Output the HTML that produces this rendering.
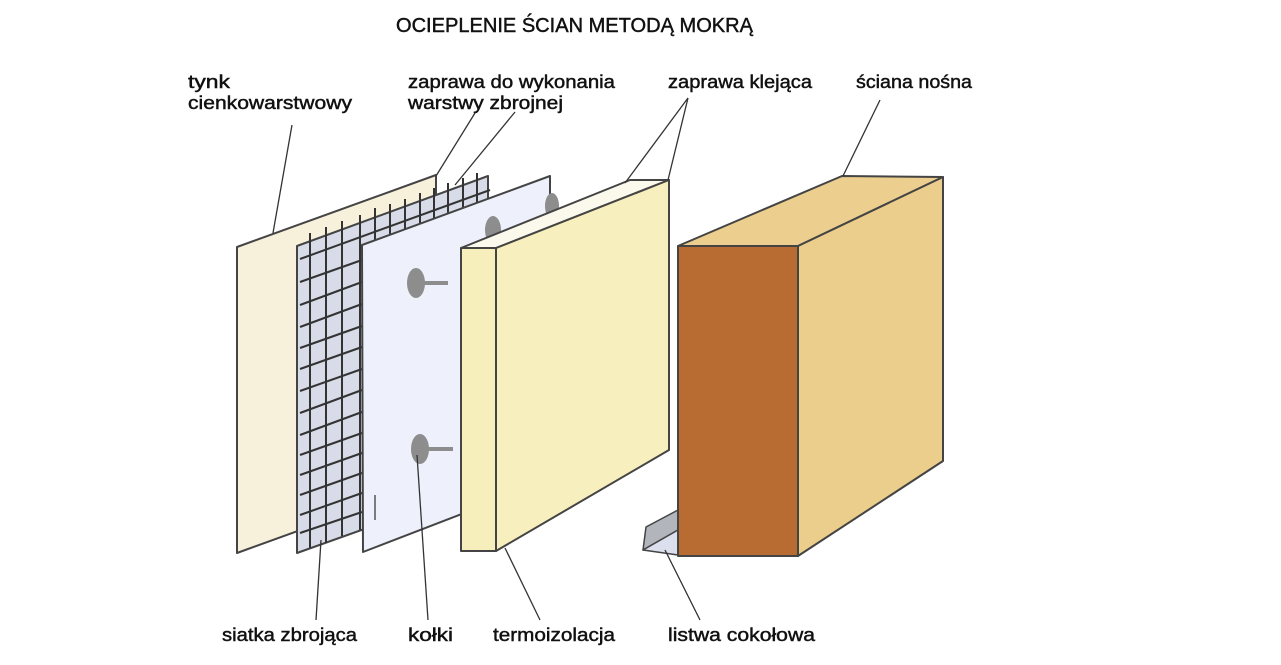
<!DOCTYPE html>
<html><head><meta charset="utf-8"><style>html,body{margin:0;padding:0;background:#fff}svg{display:block}text{font-family:"Liberation Sans",sans-serif;font-size:18px;fill:#111;stroke:#111;stroke-width:0.45px;}</style></head>
<body>
<svg width="1281" height="665" viewBox="0 0 1281 665" xmlns="http://www.w3.org/2000/svg">
<g stroke="#444" stroke-width="2" stroke-linejoin="round">
<polygon points="237,247 436,175 436,481 237,553" fill="#f7f1dc"/>
<polygon points="297,246 488,176 488,485 297,553" fill="#d7dce8"/>
</g>
<g stroke="#333" stroke-width="2">
<line x1="310" y1="233" x2="310" y2="548"/><line x1="326" y1="227" x2="326" y2="543"/><line x1="342" y1="221" x2="342" y2="536"/><line x1="360" y1="215" x2="360" y2="530"/>
<line x1="375" y1="208" x2="375" y2="240"/><line x1="390" y1="204" x2="390" y2="236"/><line x1="405" y1="199" x2="405" y2="230"/><line x1="420" y1="193" x2="420" y2="225"/><line x1="434" y1="188" x2="434" y2="220"/><line x1="448" y1="183" x2="448" y2="215"/><line x1="463" y1="178" x2="463" y2="210"/><line x1="477" y1="173" x2="477" y2="205"/>
<line x1="300" y1="259" x2="490" y2="190"/><line x1="300" y1="282" x2="362" y2="260"/><line x1="300" y1="305" x2="362" y2="282"/><line x1="300" y1="327" x2="362" y2="304"/><line x1="300" y1="348" x2="362" y2="326"/><line x1="300" y1="369" x2="362" y2="347"/><line x1="300" y1="391" x2="362" y2="369"/><line x1="300" y1="413" x2="362" y2="390"/><line x1="300" y1="435" x2="362" y2="412"/><line x1="300" y1="455" x2="362" y2="433"/><line x1="300" y1="475" x2="362" y2="453"/><line x1="300" y1="495" x2="362" y2="473"/><line x1="300" y1="515" x2="362" y2="493"/><line x1="300" y1="533" x2="362" y2="512"/>
</g>
<g stroke="#444" stroke-width="2" stroke-linejoin="round">
<polygon points="362,245 550,176 550,480 363,552" fill="#eef1fb"/>
</g>
<line x1="375" y1="495" x2="375" y2="520" stroke="#555" stroke-width="1.5"/>
<g fill="#8d8d8d">
<ellipse cx="552" cy="206" rx="7" ry="13"/><ellipse cx="493" cy="230" rx="8" ry="14"/>
<ellipse cx="416" cy="283" rx="9" ry="15"/><rect x="420" y="281" width="28" height="4"/>
<ellipse cx="420" cy="449" rx="9" ry="15"/><rect x="424" y="447" width="29" height="4"/>
</g>
<g stroke="#444" stroke-width="2" stroke-linejoin="round">
<polygon points="461,248 630,180 669,180 496,248" fill="#fbf9ec"/>
<polygon points="496,248 669,180 669,450 496,551" fill="#f7efbd"/>
<rect x="461" y="248" width="35" height="303" fill="#f6eebb"/>
<polygon points="643,550 646,527 678,510 678,530" fill="#b3b5bc" stroke-width="1.5"/>
<polygon points="643,550 678,530 678,555" fill="#dcdfee" stroke-width="1.5"/>
<polygon points="678,246 842,176 943,177 798,246" fill="#ecce8e"/>
<polygon points="798,246 943,177 943,461 798,556" fill="#ebcd8c"/>
<rect x="678" y="246" width="120" height="310" fill="#b86c32"/>
</g>
<g stroke="#333" stroke-width="1.3">
<line x1="292" y1="125" x2="273" y2="233"/>
<line x1="475" y1="113" x2="436" y2="176"/><line x1="515" y1="112" x2="455" y2="185"/>
<line x1="688" y1="98" x2="625" y2="183"/><line x1="688" y1="98" x2="668" y2="180"/>
<line x1="880" y1="100" x2="843" y2="176"/>
<line x1="316" y1="620" x2="321" y2="540"/>
<line x1="428" y1="620" x2="417" y2="455"/>
<line x1="540" y1="620" x2="505" y2="548"/>
<line x1="700" y1="620" x2="665" y2="550"/>
</g>
<g>
<text x="396" y="32" textLength="357" lengthAdjust="spacingAndGlyphs" style="font-size:20px">OCIEPLENIE ŚCIAN METODĄ MOKRĄ</text>
<text x="188" y="88" textLength="42" lengthAdjust="spacingAndGlyphs">tynk</text>
<text x="188" y="109" textLength="164" lengthAdjust="spacingAndGlyphs">cienkowarstwowy</text>
<text x="408" y="88" textLength="207" lengthAdjust="spacingAndGlyphs">zaprawa do wykonania</text>
<text x="408" y="109" textLength="155" lengthAdjust="spacingAndGlyphs">warstwy zbrojnej</text>
<text x="668" y="88" textLength="144" lengthAdjust="spacingAndGlyphs">zaprawa klejąca</text>
<text x="856" y="88" textLength="116" lengthAdjust="spacingAndGlyphs">ściana nośna</text>
<text x="222" y="641" textLength="135" lengthAdjust="spacingAndGlyphs">siatka zbrojąca</text>
<text x="408" y="641" textLength="45" lengthAdjust="spacingAndGlyphs">kołki</text>
<text x="493" y="641" textLength="122" lengthAdjust="spacingAndGlyphs">termoizolacja</text>
<text x="668" y="641" textLength="147" lengthAdjust="spacingAndGlyphs">listwa cokołowa</text>
</g>
</svg>
</body></html>
